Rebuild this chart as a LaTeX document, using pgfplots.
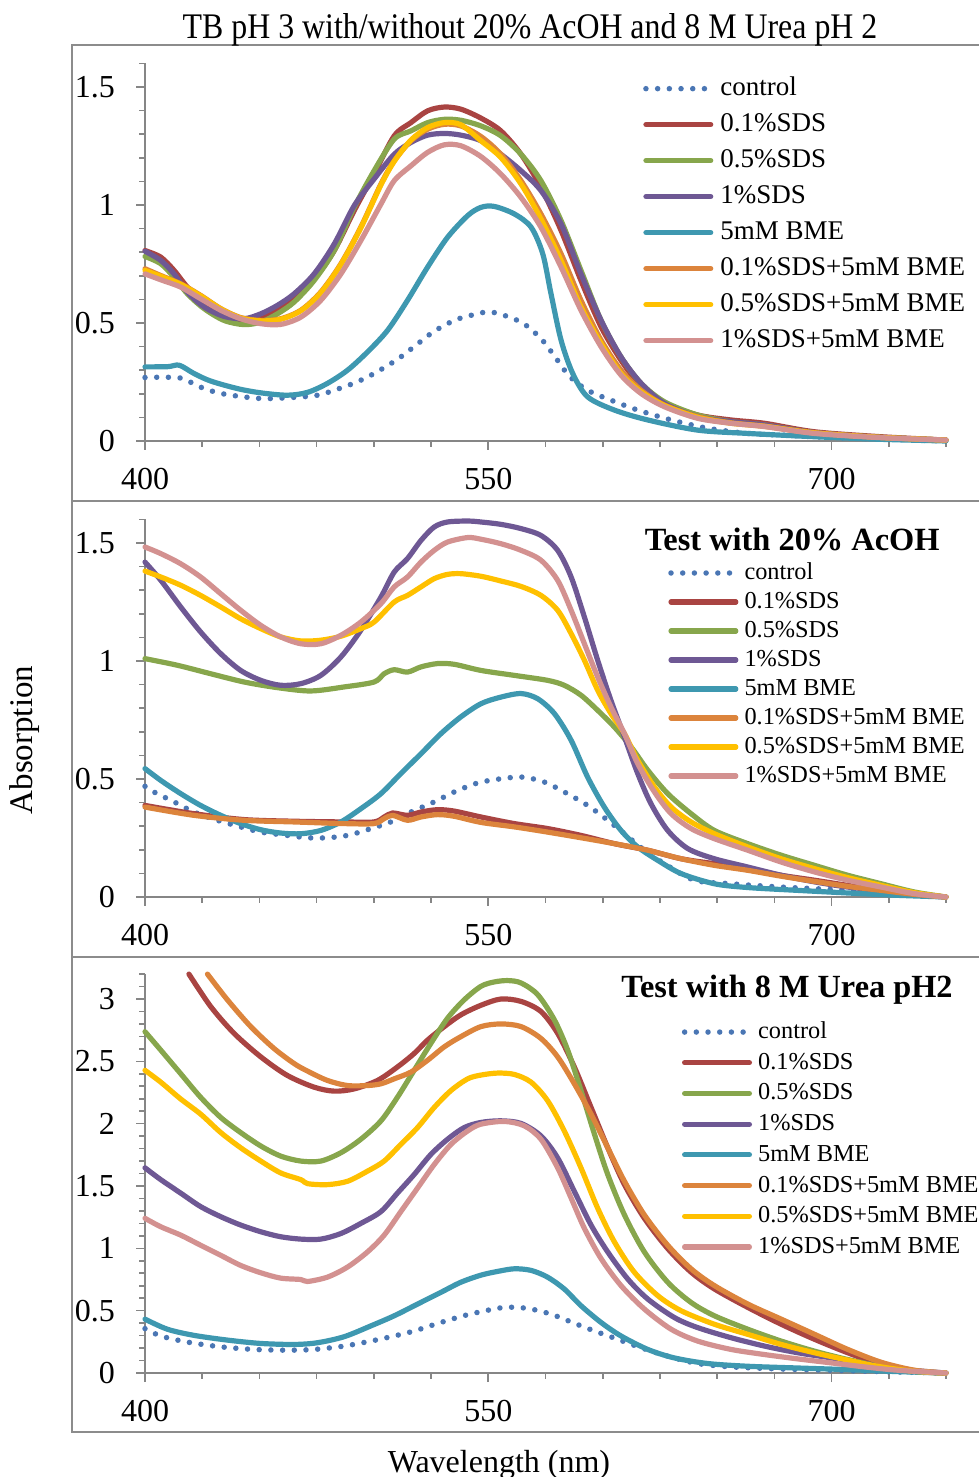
\documentclass[border=0pt]{standalone}
\usepackage{fontspec}
\setmainfont{Liberation Serif}
\usepackage{pgfplots}
\pgfplotsset{compat=1.18}
\definecolor{cctrl}{HTML}{4A76B4}
\definecolor{csa}{HTML}{A94442}
\definecolor{csb}{HTML}{87A64C}
\definecolor{csc}{HTML}{6E5894}
\definecolor{cbme}{HTML}{3E98B0}
\definecolor{cba}{HTML}{DC843C}
\definecolor{cbb}{HTML}{FFC000}
\definecolor{cbc}{HTML}{D39190}
\definecolor{axgray}{HTML}{868686}
\definecolor{frgray}{HTML}{8C8C8C}
\pgfplotsset{
  panel/.style={
    scale only axis, width=801pt,
    xmin=400, xmax=750, ymin=0,
    axis lines*=left,
    axis line style={draw=axgray, line width=2pt},
    tick style={draw=axgray, line width=1.6pt},
    major tick length=9pt, minor tick length=6pt,
    tick align=outside,
    xtick={400,550,700}, minor xtick={425,450,...,750},
    ticklabel style={font=\fontsize{32}{38}\selectfont},
    yticklabel style={xshift=-17.5pt},
    xticklabel style={yshift=-15pt},
    /pgf/number format/assume math mode=true,
    clip=false,
    legend cell align=left,
    legend image code/.code={\draw[##1] (2.6pt,0pt) -- (67.4pt,0pt);},
    every axis plot/.append style={line width=5.2pt, smooth, tension=0.5, line cap=round, line join=round},
  },
  ctrl/.style={cctrl, line width=5.5pt, dash pattern=on 0pt off 11.7pt},
}
\begin{document}
\begin{tikzpicture}
\useasboundingbox (0,0) rectangle (978pt,1477pt);
\draw[frgray, line width=1.5pt] (72pt,976pt) rectangle (990pt,1432pt);
\draw[frgray, line width=1.5pt] (72pt,520pt) rectangle (990pt,976pt);
\draw[frgray, line width=1.5pt] (72pt,45pt) rectangle (990pt,520pt);
\node[anchor=base, font=\fontsize{36}{40}\selectfont, xscale=0.885, inner sep=0pt] at (530pt,1438.7pt) {TB pH 3 with/without 20\% AcOH and 8 M Urea pH 2};
\node[rotate=90, font=\fontsize{33}{38}\selectfont, inner sep=0pt] at (25pt,737pt) {Absorption};
\node[anchor=base, font=\fontsize{32}{36}\selectfont, inner sep=0pt] at (499pt,5pt) {Wavelength (nm)};

% ---------------- Panel 1 ----------------
\begin{axis}[panel, at={(145pt,1036pt)}, anchor=south west, height=377.6pt, ymax=1.6,
  ytick={0,0.5,1,1.5}, minor ytick={0.1,0.2,0.3,0.4,0.6,0.7,0.8,0.9,1.1,1.2,1.3,1.4,1.6},
  legend style={draw=none, fill=none, at={(0.6217,0.968)}, anchor=north west, inner sep=0pt,
    font=\fontsize{27}{32}\selectfont, row sep=10pt, nodes={inner sep=0pt, text height=20pt, text depth=6pt},
    /tikz/every odd column/.append style={column sep=7pt}}]
\addplot[ctrl] coordinates {(400,0.269) (405,0.27) (410,0.27) (416.3,0.265) (425.1,0.225) (434.5,0.199) (450.6,0.18) (465.2,0.185) (475.4,0.194) (482.7,0.215) (492.1,0.248) (500.1,0.286) (510.3,0.346) (518.4,0.406) (526.4,0.465) (535.9,0.514) (545.3,0.539) (550,0.547) (555.5,0.537) (565,0.5) (573,0.434) (579.2,0.356) (585.4,0.275) (593.4,0.215) (603.6,0.173) (615.3,0.131) (630,0.089) (645.9,0.054) (663.4,0.032) (678,0.025) (700,0.015) (725,0.007) (750,0)};
\addlegendentry{control}
\addplot[csa] coordinates {(400,0.807) (406.9,0.779) (412.7,0.723) (418.5,0.652) (425.8,0.582) (434.5,0.525) (441.8,0.504) (450.6,0.525) (457.9,0.556) (465.2,0.603) (473.9,0.687) (482.7,0.807) (491.4,0.976) (500.1,1.131) (508.9,1.293) (516.2,1.349) (523.5,1.399) (530.8,1.415) (538,1.406) (546.8,1.368) (555.5,1.314) (564.3,1.215) (573,1.075) (581.8,0.892) (590.5,0.68) (599.3,0.483) (608,0.342) (616.8,0.23) (627,0.159) (641.5,0.11) (656.1,0.089) (670.7,0.075) (692.6,0.039) (721.7,0.018) (750,0.004)};
\addlegendentry{0.1\%SDS}
\addplot[csb] coordinates {(400,0.782) (406.9,0.751) (412.7,0.694) (418.5,0.624) (425.8,0.561) (434.5,0.511) (443.3,0.493) (450.6,0.504) (457.9,0.539) (465.2,0.589) (473.9,0.68) (482.7,0.807) (491.4,0.99) (500.1,1.145) (508.9,1.279) (516.2,1.314) (523.5,1.349) (530.8,1.363) (538,1.359) (546.8,1.335) (555.5,1.293) (564.3,1.215) (573,1.103) (581.8,0.934) (590.5,0.723) (599.3,0.511) (608,0.356) (616.8,0.244) (627,0.166) (641.5,0.11) (656.1,0.082) (670.7,0.068) (692.6,0.035) (721.7,0.015) (750,0.004)};
\addlegendentry{0.5\%SDS}
\addplot[csc] coordinates {(400,0.804) (406.9,0.765) (412.7,0.708) (418.5,0.631) (425.8,0.568) (434.5,0.528) (443.3,0.518) (450.6,0.539) (457.9,0.575) (465.2,0.624) (473.9,0.708) (482.7,0.835) (491.4,0.997) (500.1,1.11) (508.9,1.215) (516.2,1.265) (523.5,1.296) (530.8,1.303) (538,1.296) (546.8,1.272) (555.5,1.215) (564.3,1.145) (573,1.061) (581.8,0.92) (590.5,0.708) (599.3,0.511) (608,0.356) (616.8,0.244) (627,0.159) (641.5,0.103) (656.1,0.082) (670.7,0.068) (692.6,0.035) (721.7,0.015) (750,0.004)};
\addlegendentry{1\%SDS}
\addplot[cbme] coordinates {(400,0.314) (410,0.315) (415,0.321) (421.4,0.286) (428.7,0.254) (440.4,0.222) (450.6,0.204) (462.2,0.194) (471,0.206) (479.7,0.244) (488.5,0.3) (497.2,0.377) (506,0.469) (514.7,0.596) (523.5,0.737) (532.2,0.863) (541,0.955) (546.8,0.99) (552.6,0.994) (561.4,0.962) (568.7,0.906) (573.8,0.793) (577.4,0.624) (581.8,0.427) (586.9,0.286) (593.4,0.187) (605.1,0.131) (619.7,0.089) (641.5,0.046) (663.4,0.032) (692.6,0.018) (721.7,0.007) (750,0)};
\addlegendentry{5mM BME}
\addplot[cba] coordinates {(400,0.73) (406.9,0.701) (415.6,0.666) (424.3,0.617) (433.1,0.561) (441.8,0.523) (450.6,0.511) (459.3,0.518) (468.1,0.554) (476.8,0.631) (485.6,0.751) (494.3,0.906) (503.1,1.089) (508.9,1.187) (516.2,1.272) (523.5,1.321) (530.8,1.342) (538,1.335) (546.8,1.29) (555.5,1.215) (564.3,1.103) (573,0.962) (581.8,0.793) (590.5,0.596) (599.3,0.427) (608,0.3) (616.8,0.215) (627,0.152) (641.5,0.103) (656.1,0.077) (670.7,0.063) (692.6,0.035) (721.7,0.015) (750,0.004)};
\addlegendentry{0.1\%SDS+5mM BME}
\addplot[cbb] coordinates {(400,0.723) (406.9,0.698) (415.6,0.664) (424.3,0.615) (433.1,0.56) (441.8,0.521) (450.6,0.509) (459.3,0.516) (468.1,0.552) (476.8,0.628) (485.6,0.748) (494.3,0.903) (503.1,1.085) (508.9,1.185) (516.2,1.275) (523.5,1.328) (530.8,1.349) (538,1.34) (546.8,1.272) (555.5,1.201) (564.3,1.089) (573,0.941) (581.8,0.765) (590.5,0.568) (599.3,0.413) (608,0.286) (616.8,0.208) (627,0.15) (641.5,0.1) (656.1,0.075) (670.7,0.062) (692.6,0.034) (721.7,0.015) (750,0.004)};
\addlegendentry{0.5\%SDS+5mM BME}
\addplot[cbc] coordinates {(400,0.708) (406.9,0.683) (415.6,0.652) (424.3,0.603) (433.1,0.554) (441.8,0.518) (450.6,0.497) (459.3,0.494) (468.1,0.525) (476.8,0.596) (485.6,0.708) (494.3,0.849) (503.1,1.004) (508.9,1.103) (516.2,1.166) (523.5,1.223) (530.8,1.255) (538,1.251) (546.8,1.205) (555.5,1.131) (564.3,1.032) (573,0.906) (581.8,0.737) (590.5,0.554) (599.3,0.399) (608,0.279) (616.8,0.201) (627,0.145) (641.5,0.096) (656.1,0.075) (670.7,0.061) (692.6,0.032) (721.7,0.014) (750,0.004)};
\addlegendentry{1\%SDS+5mM BME}
\end{axis}

% ---------------- Panel 2 ----------------
\begin{axis}[panel, at={(145pt,580pt)}, anchor=south west, height=377.6pt, ymax=1.6,
  ytick={0,0.5,1,1.5}, minor ytick={0.1,0.2,0.3,0.4,0.6,0.7,0.8,0.9,1.1,1.2,1.3,1.4,1.6},
  legend style={draw=none, fill=none, at={(0.653,0.889)}, anchor=north west, inner sep=0pt,
    font=\fontsize{24.3}{29}\selectfont, row sep=6pt, nodes={inner sep=0pt, text height=18pt, text depth=5pt},
    /tikz/every odd column/.append style={column sep=6pt}}]
\addplot[ctrl] coordinates {(400,0.469) (403.9,0.445) (412.7,0.403) (421.4,0.36) (431.6,0.325) (441.8,0.297) (450.6,0.275) (462.2,0.261) (471,0.251) (479.7,0.251) (488.5,0.261) (497.2,0.285) (507.4,0.318) (516.2,0.36) (526.4,0.403) (535.1,0.445) (545.3,0.483) (555.5,0.501) (565,0.508) (574.5,0.487) (583.2,0.445) (593.4,0.388) (602.2,0.325) (609.5,0.268) (618.2,0.198) (627,0.141) (640.1,0.071) (656.1,0.056) (678,0.042) (699.9,0.032) (721.7,0.021) (750,0)};
\addlegendentry{control}
\addplot[csa] coordinates {(400,0.388) (421.4,0.353) (443.3,0.328) (465.2,0.321) (487,0.318) (500.1,0.318) (504.5,0.339) (508.2,0.356) (514.7,0.346) (520.6,0.36) (527.8,0.37) (535.1,0.364) (546.8,0.339) (561.4,0.311) (575.9,0.29) (590.5,0.261) (605.1,0.226) (619.7,0.198) (634.3,0.162) (648.8,0.141) (663.4,0.12) (678,0.092) (692.6,0.071) (707.1,0.049) (721.7,0.028) (736.3,0.011) (750,0)};
\addlegendentry{0.1\%SDS}
\addplot[csb] coordinates {(400,1.01) (414.1,0.982) (428.7,0.946) (443.3,0.911) (457.9,0.887) (472.4,0.873) (487,0.89) (500.1,0.911) (504.5,0.946) (508.9,0.963) (514.7,0.953) (520.6,0.975) (527.8,0.989) (535.1,0.986) (546.8,0.96) (561.4,0.939) (575.9,0.918) (583.2,0.897) (590.5,0.855) (597.8,0.791) (605.1,0.72) (612.4,0.636) (619.7,0.537) (628.4,0.438) (638.6,0.353) (648.8,0.282) (663.4,0.226) (678,0.177) (692.6,0.134) (707.1,0.092) (721.7,0.056) (736.3,0.021) (750,0)};
\addlegendentry{0.5\%SDS}
\addplot[csc] coordinates {(400,1.419) (406.9,1.342) (415.6,1.229) (424.3,1.123) (433.1,1.031) (441.8,0.96) (450.6,0.918) (459.3,0.897) (468.1,0.904) (476.8,0.939) (485.6,1.017) (494.3,1.13) (503.1,1.271) (508.9,1.377) (514.7,1.434) (520.6,1.511) (526.4,1.568) (532.2,1.589) (541,1.593) (546.8,1.589) (555.5,1.579) (564.3,1.561) (573,1.532) (580.3,1.469) (586.2,1.356) (592,1.186) (597.8,1.003) (603.6,0.833) (609.5,0.678) (615.3,0.523) (621.1,0.395) (628.4,0.282) (637.2,0.205) (648.8,0.162) (663.4,0.127) (678,0.092) (692.6,0.064) (707.1,0.042) (721.7,0.028) (736.3,0.011) (750,0)};
\addlegendentry{1\%SDS}
\addplot[cbme] coordinates {(400,0.544) (406.9,0.494) (415.6,0.438) (424.3,0.388) (433.1,0.346) (441.8,0.311) (450.6,0.285) (459.3,0.271) (468.1,0.268) (476.8,0.282) (485.6,0.318) (494.3,0.374) (503.1,0.438) (511.8,0.523) (520.6,0.607) (529.3,0.692) (538,0.763) (546.8,0.819) (555.5,0.847) (564.3,0.862) (571.6,0.84) (578.9,0.777) (586.2,0.664) (593.4,0.508) (600.7,0.381) (608,0.282) (615.3,0.212) (624.1,0.155) (634.3,0.099) (648.8,0.056) (663.4,0.04) (685.3,0.028) (707.1,0.017) (729,0.007) (750,0)};
\addlegendentry{5mM BME}
\addplot[cba] coordinates {(400,0.381) (421.4,0.346) (443.3,0.325) (465.2,0.318) (487,0.311) (500.1,0.311) (504.5,0.332) (508.2,0.346) (514.7,0.325) (520.6,0.339) (527.8,0.349) (535.1,0.342) (546.8,0.316) (561.4,0.297) (575.9,0.275) (590.5,0.251) (605.1,0.226) (619.7,0.198) (634.3,0.162) (648.8,0.134) (663.4,0.113) (678,0.088) (692.6,0.066) (707.1,0.045) (721.7,0.028) (736.3,0.011) (750,0)};
\addlegendentry{0.1\%SDS+5mM BME}
\addplot[cbb] coordinates {(400,1.381) (406.9,1.356) (415.6,1.321) (424.3,1.278) (433.1,1.229) (441.8,1.179) (450.6,1.137) (459.3,1.102) (468.1,1.085) (476.8,1.088) (485.6,1.105) (494.3,1.137) (500.1,1.165) (508.9,1.25) (514.7,1.278) (520.6,1.314) (526.4,1.349) (532.2,1.367) (538,1.37) (546.8,1.359) (555.5,1.339) (564.3,1.316) (573,1.278) (580.3,1.215) (586.2,1.116) (592,1.003) (597.8,0.876) (603.6,0.777) (609.5,0.692) (615.3,0.579) (622.6,0.466) (629.9,0.381) (638.6,0.318) (648.8,0.268) (663.4,0.212) (678,0.162) (692.6,0.12) (707.1,0.082) (721.7,0.049) (736.3,0.018) (750,0)};
\addlegendentry{0.5\%SDS+5mM BME}
\addplot[cbc] coordinates {(400,1.483) (406.9,1.455) (415.6,1.412) (424.3,1.356) (433.1,1.285) (441.8,1.215) (450.6,1.151) (459.3,1.102) (468.1,1.073) (476.8,1.073) (485.6,1.109) (494.3,1.165) (503.1,1.243) (508.9,1.314) (514.7,1.356) (520.6,1.419) (526.4,1.469) (532.2,1.504) (541,1.523) (546.8,1.516) (555.5,1.497) (564.3,1.469) (573,1.427) (580.3,1.342) (586.2,1.215) (592,1.073) (597.8,0.932) (603.6,0.805) (609.5,0.692) (615.3,0.565) (622.6,0.445) (629.9,0.353) (638.6,0.29) (648.8,0.247) (663.4,0.198) (678,0.148) (692.6,0.106) (707.1,0.071) (721.7,0.042) (736.3,0.014) (750,0)};
\addlegendentry{1\%SDS+5mM BME}
\node[font=\bfseries\fontsize{32.4}{37}\selectfont, inner sep=0pt] at (axis description cs:0.808,0.948) {Test with 20\% AcOH};
\end{axis}

% ---------------- Panel 3 ----------------
\begin{axis}[panel, at={(145pt,104pt)}, anchor=south west, height=398.9pt, ymax=3.2,
  ytick={0,0.5,1,1.5,2,2.5,3}, minor ytick={0.1,0.2,0.3,0.4,0.6,0.7,0.8,0.9,1.1,1.2,1.3,1.4,1.6,1.7,1.8,1.9,2.1,2.2,2.3,2.4,2.6,2.7,2.8,2.9,3.1,3.2},
  legend style={draw=none, fill=none, at={(0.670,0.884)}, anchor=north west, inner sep=0pt,
    font=\fontsize{24.3}{29}\selectfont, row sep=7.7pt, nodes={inner sep=0pt, text height=18pt, text depth=5pt},
    /tikz/every odd column/.append style={column sep=6pt}}]
\addplot[ctrl] coordinates {(400,0.356) (406.9,0.297) (418.5,0.248) (433.1,0.21) (447.7,0.189) (462.2,0.183) (473.9,0.189) (487,0.216) (498.7,0.256) (508.9,0.297) (517.6,0.337) (527.8,0.397) (538,0.453) (545.3,0.486) (557,0.526) (567.2,0.518) (577.4,0.472) (587.6,0.399) (596.4,0.337) (606.6,0.27) (616.8,0.202) (628.4,0.135) (641.5,0.076) (656.1,0.049) (678,0.032) (699.9,0.022) (721.7,0.011) (750,0)};
\addlegendentry{control}
\addplot[csa] coordinates {(419.2,3.2) (428.7,2.94) (438.9,2.725) (450.6,2.536) (462.2,2.387) (473.9,2.293) (482.7,2.261) (491.4,2.279) (501.6,2.347) (510.3,2.455) (517.6,2.563) (523.5,2.671) (530.8,2.779) (538,2.873) (546.8,2.95) (555.5,3.0) (564.3,2.981) (573,2.9) (580.3,2.725) (587.6,2.455) (594.9,2.131) (602.2,1.807) (609.5,1.511) (618.2,1.241) (628.4,0.998) (638.6,0.809) (648.8,0.674) (663.4,0.526) (678,0.391) (692.6,0.27) (707.1,0.162) (721.7,0.067) (736.3,0.013) (750,0)};
\addlegendentry{0.1\%SDS}
\addplot[csb] coordinates {(400,2.738) (406.9,2.59) (415.6,2.401) (424.3,2.212) (433.1,2.05) (441.8,1.929) (450.6,1.821) (459.3,1.74) (468.1,1.7) (476.8,1.7) (485.6,1.767) (494.3,1.875) (503.1,2.023) (510.3,2.212) (517.6,2.428) (524.9,2.644) (532.2,2.846) (539.5,2.994) (546.8,3.102) (552.6,3.137) (558.5,3.148) (564.3,3.129) (571.6,3.035) (578.9,2.832) (584.7,2.59) (590.5,2.266) (596.4,1.915) (602.2,1.592) (609.5,1.268) (618.2,0.971) (628.4,0.728) (638.6,0.566) (648.8,0.459) (663.4,0.351) (678,0.256) (692.6,0.175) (707.1,0.108) (721.7,0.054) (736.3,0.013) (750,0)};
\addlegendentry{0.5\%SDS}
\addplot[csc] coordinates {(400,1.646) (406.9,1.551) (415.6,1.443) (424.3,1.335) (433.1,1.254) (441.8,1.187) (450.6,1.133) (459.3,1.093) (468.1,1.074) (476.8,1.074) (485.6,1.119) (494.3,1.2) (503.1,1.295) (510.3,1.443) (517.6,1.592) (524.9,1.753) (532.2,1.875) (539.5,1.969) (546.8,2.01) (555.5,2.023) (564.3,2.002) (573,1.902) (580.3,1.726) (587.6,1.457) (594.9,1.187) (602.2,0.971) (610.9,0.755) (619.7,0.593) (631.3,0.445) (641.5,0.364) (656.1,0.283) (670.7,0.216) (685.3,0.162) (699.9,0.121) (714.4,0.076) (729,0.032) (750,0)};
\addlegendentry{1\%SDS}
\addplot[cbme] coordinates {(400,0.432) (409.8,0.351) (421.4,0.302) (436,0.264) (450.6,0.237) (465.2,0.229) (475.4,0.243) (487,0.291) (498.7,0.378) (508.9,0.459) (519.1,0.553) (529.3,0.647) (538,0.728) (546.8,0.785) (554.1,0.815) (561.4,0.836) (568.7,0.823) (575.9,0.769) (583.2,0.674) (590.5,0.54) (599.3,0.405) (608,0.297) (619.7,0.189) (631.3,0.121) (645.9,0.076) (663.4,0.054) (685.3,0.04) (707.1,0.027) (729,0.011) (750,0)};
\addlegendentry{5mM BME}
\addplot[cba] coordinates {(427.3,3.2) (436,2.994) (446.2,2.779) (456.4,2.603) (465.2,2.482) (471,2.422) (479.7,2.347) (488.5,2.306) (497.2,2.306) (503.1,2.32) (508.9,2.36) (516.2,2.414) (523.5,2.509) (530.8,2.617) (538,2.698) (546.8,2.779) (555.5,2.8) (564.3,2.779) (573,2.684) (580.3,2.536) (587.6,2.32) (594.9,2.077) (602.2,1.807) (609.5,1.538) (618.2,1.268) (628.4,1.025) (638.6,0.836) (648.8,0.701) (663.4,0.553) (678,0.432) (692.6,0.31) (707.1,0.189) (721.7,0.086) (736.3,0.022) (750,0)};
\addlegendentry{0.1\%SDS+5mM BME}
\addplot[cbb] coordinates {(400,2.428) (406.9,2.333) (415.6,2.198) (424.3,2.077) (433.1,1.929) (441.8,1.807) (450.6,1.7) (459.3,1.605) (468.1,1.551) (471,1.519) (479.7,1.511) (488.5,1.538) (497.2,1.619) (504.5,1.7) (511.8,1.834) (519.1,1.969) (526.4,2.131) (533.7,2.266) (541,2.36) (546.8,2.39) (554.1,2.406) (561.4,2.395) (568.7,2.333) (575.9,2.185) (583.2,1.942) (590.5,1.646) (597.8,1.322) (605.1,1.052) (613.8,0.809) (624.1,0.62) (634.3,0.499) (648.8,0.391) (663.4,0.31) (678,0.229) (692.6,0.162) (707.1,0.103) (721.7,0.049) (736.3,0.013) (750,0)};
\addlegendentry{0.5\%SDS+5mM BME}
\addplot[cbc] coordinates {(400,1.241) (406.9,1.173) (415.6,1.106) (424.3,1.025) (433.1,0.944) (441.8,0.863) (450.6,0.804) (459.3,0.761) (468.1,0.75) (471,0.734) (479.7,0.769) (488.5,0.85) (497.2,0.971) (504.5,1.106) (511.8,1.295) (519.1,1.484) (526.4,1.673) (533.7,1.834) (541,1.942) (546.8,1.996) (557,2.018) (565.7,1.983) (573,1.875) (580.3,1.646) (586.2,1.403) (592,1.16) (599.3,0.917) (608,0.701) (618.2,0.513) (629.9,0.351) (641.5,0.256) (656.1,0.189) (670.7,0.148) (685.3,0.113) (699.9,0.081) (714.4,0.049) (729,0.022) (750,0)};
\addlegendentry{1\%SDS+5mM BME}
\node[font=\bfseries\fontsize{32.3}{37}\selectfont, inner sep=0pt] at (axis description cs:0.8015,0.960) {Test with 8 M Urea pH2};
\end{axis}
\end{tikzpicture}
\end{document}
